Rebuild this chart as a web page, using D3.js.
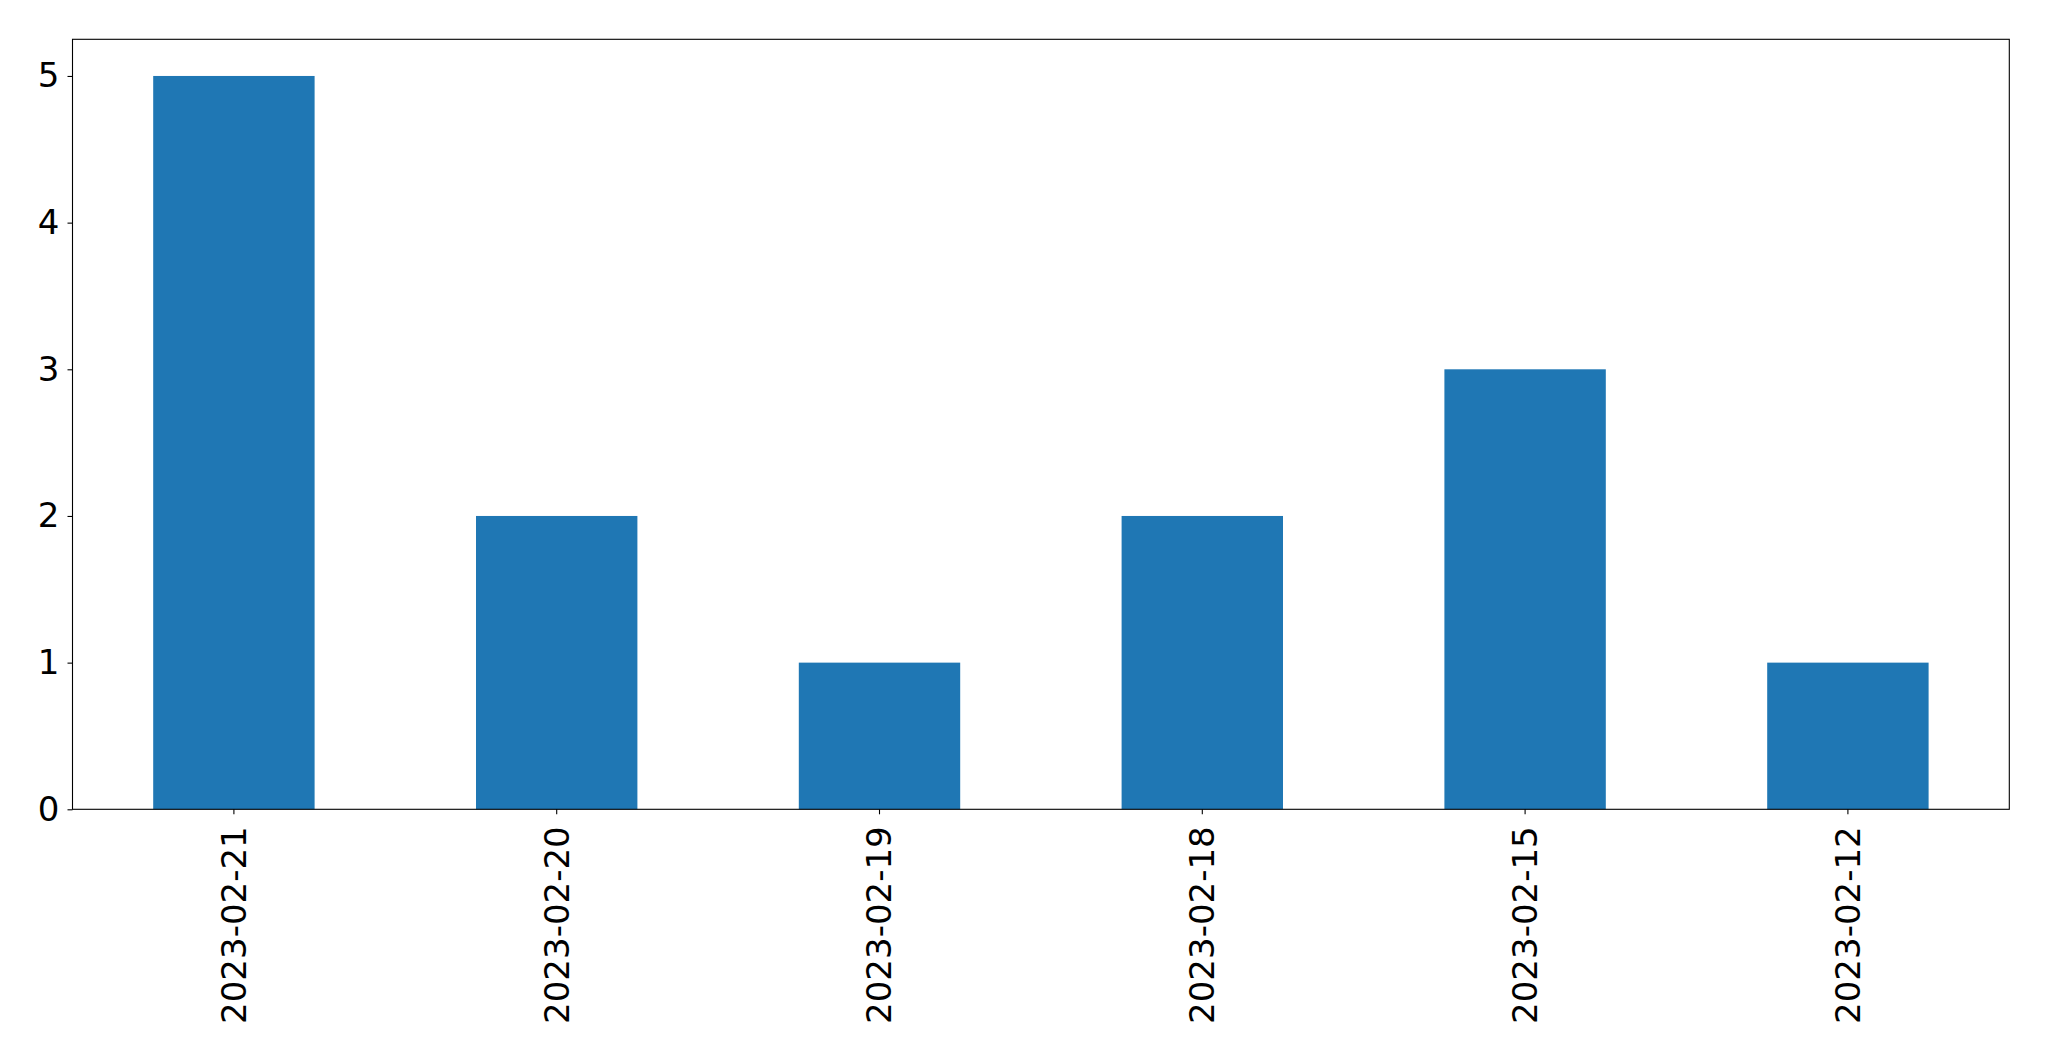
<!DOCTYPE html>
<html><head><meta charset="utf-8">
<script src="https://cdn.jsdelivr.net/npm/d3@7"></script>
<style>body{margin:0;background:#fff}svg{display:block}text{font-family:"DejaVu Sans",sans-serif}</style>
</head><body>
<script>
const categories = ["2023-02-21","2023-02-20","2023-02-19","2023-02-18","2023-02-15","2023-02-12"];
const values = [5, 2, 1, 2, 3, 1];
const yTicks = [0, 1, 2, 3, 4, 5];

const W = 2049, H = 1061;
const m = {left: 72.5, right: 2049 - 2009.3, top: 39.3, bottom: 1061 - 809.3};
const svg = d3.select("body").append("svg").attr("width", W).attr("height", H);
const x = d3.scaleBand().domain(categories).range([m.left, W - m.right]).paddingInner(0.5).paddingOuter(0.25);
const y = d3.scaleLinear().domain([0, 5.25]).range([H - m.bottom, m.top]);

svg.append("g").selectAll("rect").data(values).join("rect")
  .attr("x", (d, i) => x(categories[i]))
  .attr("width", x.bandwidth())
  .attr("y", d => y(d))
  .attr("height", d => y(0) - y(d))
  .attr("fill", "#1f77b4");

const fs = 34;
const xa = svg.append("g").attr("transform", `translate(0,${H - m.bottom})`)
  .call(d3.axisBottom(x).tickSize(5).tickPadding(12).tickSizeOuter(0));
xa.select(".domain").remove();
xa.selectAll("line").attr("stroke", "#000").attr("stroke-width", 1.1);
xa.selectAll("text").attr("font-size", fs).attr("fill", "#000")
  .attr("transform", "rotate(-90)").attr("text-anchor", "end")
  .attr("x", -17).attr("y", 0).attr("dy", "0.35em");

const ya = svg.append("g").attr("transform", `translate(${m.left},0)`)
  .call(d3.axisLeft(y).tickValues(yTicks).tickFormat(d3.format("d")).tickSize(5).tickPadding(8));
ya.select(".domain").remove();
ya.selectAll("line").attr("stroke", "#000").attr("stroke-width", 1.1);
ya.selectAll("text").attr("font-size", fs).attr("fill", "#000");

svg.append("rect").attr("x", m.left).attr("y", m.top)
  .attr("width", W - m.right - m.left).attr("height", H - m.bottom - m.top)
  .attr("fill", "none").attr("stroke", "#000").attr("stroke-width", 1.1);
</script>
</body></html>
